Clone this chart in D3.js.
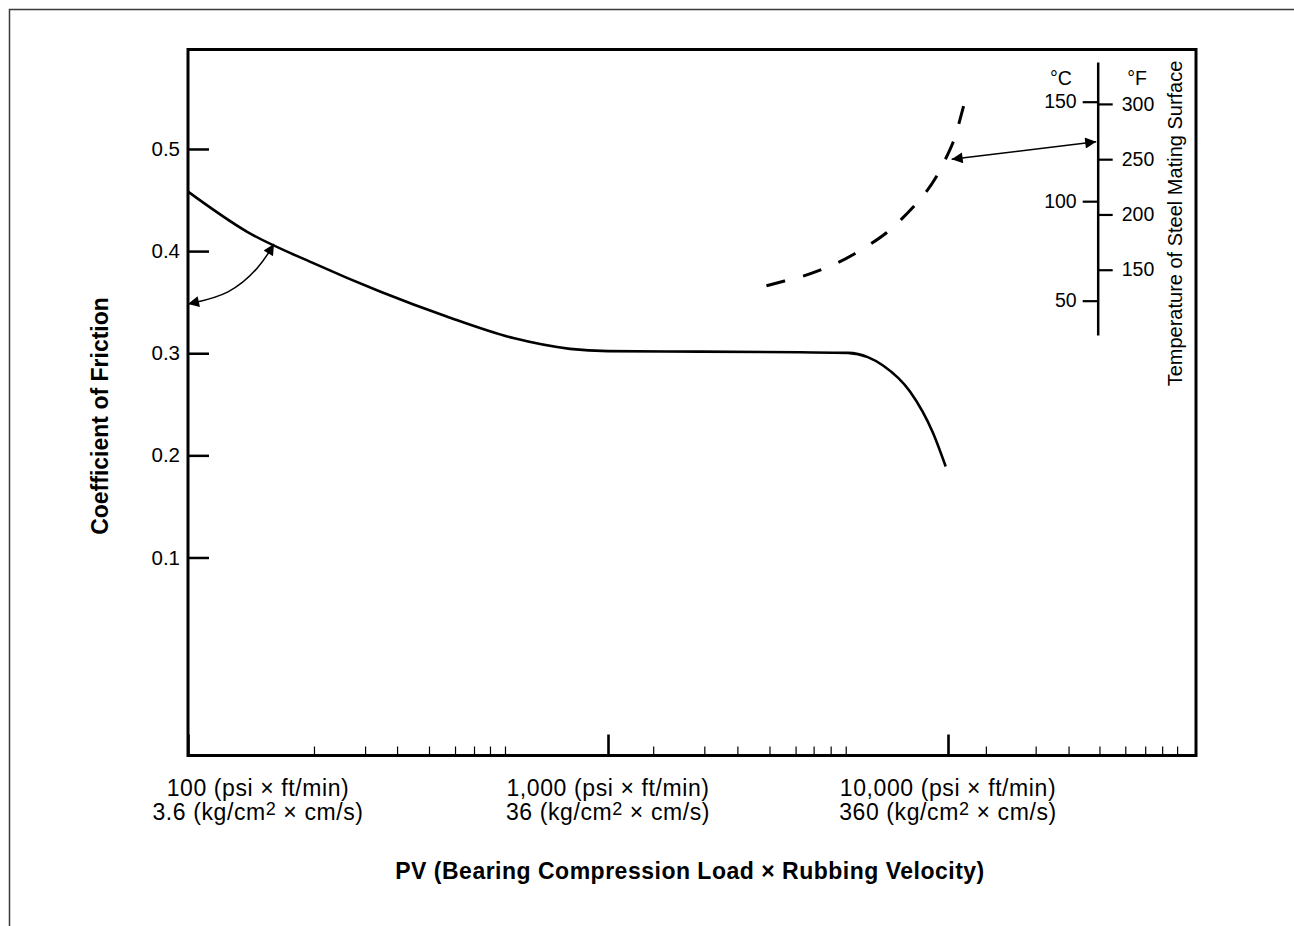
<!DOCTYPE html>
<html><head><meta charset="utf-8">
<script src="https://cdn.jsdelivr.net/npm/d3@7"></script>
<style>
html,body{margin:0;padding:0;background:#fff;}
svg{display:block;}
text{font-family:'Liberation Sans',Arial,Helvetica,sans-serif;fill:#000;}
</style></head><body>
<svg id="chart" width="1294" height="926"></svg>
<script>
// ---------------- data ----------------
// x: PV (psi x ft/min), hand-drawn log axis: break values of the piecewise log scale
const xBreaks = [100, 1000, 10000, 50000];
const xMajor = [100, 1000, 10000];
const xMinor = [199.5, 264, 314.6, 374.8, 432.3, 479.7, 523.6, 568.5,
                1358, 1920, 2402, 2985, 3562, 4025, 4517, 5002,
                12785, 17663, 21866, 26721, 31600, 35960, 40140, 44230];
const psiLabels = ["100", "1,000", "10,000"];
const metricLabels = ["3.6", "36", "360"];
const yTicks = [0.1, 0.2, 0.3, 0.4, 0.5];
const tempCTicks = [50, 100, 150];
const tempFTicks = [150, 200, 250, 300];

// friction coefficient curve (solid)
const frictionPV   = [100, 138, 198.8, 286.5, 413, 595.1, 812, 1000, 1865, 3670, 5080, 5808, 6440, 7730, 9030, 9845];
const frictionCoef = [0.4582, 0.4191, 0.3882, 0.3604, 0.3359, 0.3148, 0.3043, 0.3021, 0.3016, 0.3009, 0.3003, 0.2962, 0.2880, 0.2625, 0.2221, 0.1891];

// temperature of steel mating surface (dashed), in °C
const tempPV = [2924, 3305, 3736, 4222, 4771, 5316, 5929, 6609, 7268, 7938, 8612, 9281, 9799, 10395, 10736, 11067];
const tempC  = [57.5, 59.9, 62.1, 65.4, 69.1, 73.5, 78.5, 83.9, 90.6, 97.2, 104.3, 112.3, 120.7, 129.9, 139.1, 147.8];

// annotation arrows
const arrow1PV   = [100, 125.9, 148.4, 160.2];
const arrow1Coef = [0.3483, 0.3571, 0.3842, 0.4070];
const arrow2StartPV = 10240, arrow2StartC = 121.1, arrow2EndC = 129.9;

// ---------------- layout ----------------
const W = 1294, H = 926;
const frame = {left: 188, right: 1196, top: 49.5, bottom: 755.5};
const tempAxisX = 1097.7;
const FONT = "'Liberation Sans', Arial, Helvetica, sans-serif";

const svg = d3.select('#chart');

// outer border (top & left)
svg.append('path')
  .attr('d', `M9.5,${H} V9.5 H${W}`)
  .attr('fill', 'none').attr('stroke', '#3a3a3a').attr('stroke-width', 1.5);

// scales
const x = d3.scaleLog().domain(xBreaks).range([frame.left, 608, 948, frame.right]);
const y = d3.scaleLinear().domain([-0.0939, 0.5974]).range([frame.bottom, frame.top]);
const tC = d3.scaleLinear().domain([32.8, 170]).range([334.9, 61.9]);
const c2f = c => c * 9 / 5 + 32;
const tF = d3.scaleLinear().domain([c2f(32.8), c2f(170)]).range([334.9, 61.9]);

// markers
const defs = svg.append('defs');
defs.append('marker')
  .attr('id', 'ah').attr('viewBox', '0 0 10 10')
  .attr('refX', 10).attr('refY', 5)
  .attr('markerUnits', 'userSpaceOnUse')
  .attr('markerWidth', 14).attr('markerHeight', 11)
  .attr('orient', 'auto-start-reverse')
  .append('path').attr('d', 'M0,0 L10,5 L0,10 Z').attr('fill', '#000');

// plot frame
svg.append('rect')
  .attr('x', frame.left).attr('y', frame.top)
  .attr('width', frame.right - frame.left).attr('height', frame.bottom - frame.top)
  .attr('fill', 'none').attr('stroke', '#000').attr('stroke-width', 3);

// y axis
const gy = svg.append('g').attr('transform', `translate(${frame.left},0)`)
  .call(d3.axisLeft(y).tickValues(yTicks).tickSize(-21).tickPadding(8).tickFormat(d3.format('.1f')));
gy.select('.domain').remove();
gy.selectAll('.tick line').attr('stroke', '#000').attr('stroke-width', 2.5);
gy.selectAll('.tick text').attr('font-size', 20.5).attr('font-family', FONT).attr('fill', '#000');

// x axis: major and minor ticks
const gxMaj = svg.append('g').attr('transform', `translate(0,${frame.bottom})`)
  .call(d3.axisBottom(x).tickValues(xMajor).tickSize(-21).tickFormat(''));
gxMaj.select('.domain').remove();
gxMaj.selectAll('.tick line').attr('stroke', '#000').attr('stroke-width', 2.6);

const gxMin = svg.append('g').attr('transform', `translate(0,${frame.bottom})`)
  .call(d3.axisBottom(x).tickValues(xMinor).tickSize(-9).tickFormat(''));
gxMin.select('.domain').remove();
gxMin.selectAll('.tick line').attr('stroke', '#000').attr('stroke-width', 1.2);

// x tick labels (two lines)
xMajor.forEach((v, i) => {
  const cx = Math.max(x(v), frame.left + 70);
  svg.append('text').attr('x', cx).attr('y', 796)
    .attr('text-anchor', 'middle').attr('font-size', 23).attr('letter-spacing', 0.6)
    .text(`${psiLabels[i]} (psi \u00D7 ft/min)`);
  const t = svg.append('text').attr('x', cx).attr('y', 820)
    .attr('text-anchor', 'middle').attr('font-size', 23).attr('letter-spacing', 0.6);
  t.append('tspan').text(`${metricLabels[i]} (kg/cm`);
  t.append('tspan').attr('font-size', 18).attr('dy', -5).text('2');
  t.append('tspan').attr('dy', 5).text(' \u00D7 cm/s)');
});

// axis titles
svg.append('text').attr('x', 690).attr('y', 879).attr('text-anchor', 'middle')
  .attr('font-size', 23).attr('font-weight', 'bold').attr('letter-spacing', 0.5)
  .text('PV (Bearing Compression Load \u00D7 Rubbing Velocity)');
svg.append('text').attr('transform', 'translate(108,416) rotate(-90)').attr('text-anchor', 'middle')
  .attr('font-size', 23).attr('font-weight', 'bold')
  .text('Coefficient of Friction');

// friction curve
const lineF = d3.line().x((d, i) => x(frictionPV[i])).y((d, i) => y(frictionCoef[i])).curve(d3.curveMonotoneX);
svg.append('path').attr('d', lineF(frictionPV))
  .attr('fill', 'none').attr('stroke', '#000').attr('stroke-width', 2.6);

// temperature curve (dashed)
const lineT = d3.line().x((d, i) => x(tempPV[i])).y((d, i) => tC(tempC[i])).curve(d3.curveBasis);
svg.append('path').attr('d', lineT(tempPV))
  .attr('fill', 'none').attr('stroke', '#000').attr('stroke-width', 3)
  .attr('stroke-dasharray', '19.3 18.6');

// arrow 1 (curved, double headed)
const lineA = d3.line().x((d, i) => x(arrow1PV[i])).y((d, i) => y(arrow1Coef[i])).curve(d3.curveBasis);
svg.append('path').attr('d', lineA(arrow1PV))
  .attr('fill', 'none').attr('stroke', '#000').attr('stroke-width', 1.5)
  .attr('marker-start', 'url(#ah)').attr('marker-end', 'url(#ah)');

// arrow 2 (straight, double headed)
svg.append('path')
  .attr('d', d3.line()([[x(arrow2StartPV), tC(arrow2StartC)], [tempAxisX - 1.5, tC(arrow2EndC)]]))
  .attr('fill', 'none').attr('stroke', '#000').attr('stroke-width', 1.5)
  .attr('marker-start', 'url(#ah)').attr('marker-end', 'url(#ah)');

// temperature axis
const gC = svg.append('g').attr('transform', `translate(${tempAxisX},0)`)
  .call(d3.axisLeft(tC).tickValues(tempCTicks).tickSize(15).tickSizeOuter(0).tickPadding(6));
gC.select('.domain').attr('stroke', '#000').attr('stroke-width', 2.5);
gC.selectAll('.tick line').attr('stroke', '#000').attr('stroke-width', 2.2);
gC.selectAll('.tick text').attr('font-size', 19.5).attr('font-family', FONT).attr('fill', '#000');

const gF = svg.append('g').attr('transform', `translate(${tempAxisX},0)`)
  .call(d3.axisRight(tF).tickValues(tempFTicks).tickSize(15).tickSizeOuter(0).tickPadding(9));
gF.select('.domain').remove();
gF.selectAll('.tick line').attr('stroke', '#000').attr('stroke-width', 2.2);
gF.selectAll('.tick text').attr('font-size', 19.5).attr('font-family', FONT).attr('fill', '#000');

svg.append('text').attr('x', 1061).attr('y', 84.5).attr('text-anchor', 'middle').attr('font-size', 19.5).text('\u00B0C');
svg.append('text').attr('x', 1137).attr('y', 84.5).attr('text-anchor', 'middle').attr('font-size', 19.5).text('\u00B0F');
svg.append('text').attr('transform', 'translate(1182,223.5) rotate(-90)').attr('text-anchor', 'middle')
  .attr('font-size', 20).text('Temperature of Steel Mating Surface');
</script>
</body></html>
